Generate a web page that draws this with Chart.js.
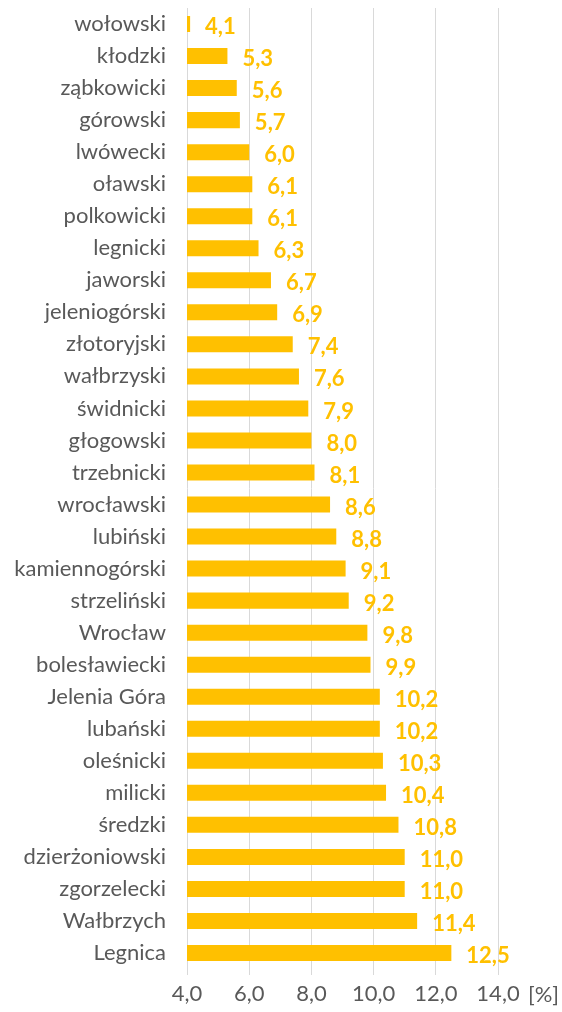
<!DOCTYPE html>
<html>
<head>
<meta charset="utf-8">
<script src="https://cdn.jsdelivr.net/npm/chart.js@4"></script>
<style>
  html, body { margin: 0; padding: 0; background: #fff; }
  #wrap { width: 562px; height: 1012px; }
</style>
</head>
<body>
<div id="wrap"><canvas id="myChart"></canvas></div>
<script>
const labels = [
  'wołowski', 'kłodzki', 'ząbkowicki', 'górowski', 'lwówecki', 'oławski',
  'polkowicki', 'legnicki', 'jaworski', 'jeleniogórski', 'złotoryjski',
  'wałbrzyski', 'świdnicki', 'głogowski', 'trzebnicki', 'wrocławski',
  'lubiński', 'kamiennogórski', 'strzeliński', 'Wrocław', 'bolesławiecki',
  'Jelenia Góra', 'lubański', 'oleśnicki', 'milicki', 'średzki',
  'dzierżoniowski', 'zgorzelecki', 'Wałbrzych', 'Legnica'
];

const values = [
  4.1, 5.3, 5.6, 5.7, 6.0, 6.1,
  6.1, 6.3, 6.7, 6.9, 7.4,
  7.6, 7.9, 8.0, 8.1, 8.6,
  8.8, 9.1, 9.2, 9.8, 9.9,
  10.2, 10.2, 10.3, 10.4, 10.8,
  11.0, 11.0, 11.4, 12.5
];

const axisMin = 4;
const axisMax = 14;
const axisUnit = '[%]';

const fmt = v => v.toFixed(1).replace('.', ',');

// value labels next to bars + unit after the axis
const valueLabels = {
  id: 'valueLabels',
  afterDatasetsDraw(chart) {
    const ctx = chart.ctx;
    const meta = chart.getDatasetMeta(0);
    ctx.save();
    ctx.font = 'bold 22px Lato, sans-serif';
    ctx.fillStyle = '#FFC000';
    ctx.textAlign = 'left';
    ctx.textBaseline = 'middle';
    meta.data.forEach((bar, i) => {
      ctx.fillText(fmt(values[i]), bar.x + 15, bar.y + 3);
    });
    const xs = chart.scales.x;
    ctx.font = '22px Lato, sans-serif';
    ctx.fillStyle = '#595959';
    ctx.fillText(axisUnit, xs.right + 30, xs.top + 26);
    ctx.restore();
  }
};

const data = {
  labels: labels,
  datasets: [{
    data: values,
    backgroundColor: '#FFC000',
    categoryPercentage: 1,
    barPercentage: 0.5
  }]
};

const config = {
  type: 'bar',
  data: data,
  options: {
    indexAxis: 'y',
    responsive: true,
    maintainAspectRatio: false,
    animation: false,
    layout: { padding: { top: 8, right: 64, bottom: 0, left: 0 } },
    scales: {
      x: {
        min: axisMin,
        max: axisMax,
        ticks: {
          stepSize: 2,
          color: '#595959',
          font: { family: 'Lato, sans-serif', size: 22 },
          callback: v => fmt(v),
          padding: 6
        },
        grid: { color: '#D9D9D9', drawTicks: true, tickLength: 6 },
        border: { display: false },
        afterFit(scale) { scale.height = 43; }
      },
      y: {
        ticks: {
          color: '#595959',
          font: { family: 'Lato, sans-serif', size: 22 },
          padding: 13
        },
        grid: { display: false },
        border: { display: false },
        afterFit(scale) {
          scale.width = 187;
          scale.paddingTop = 0;
          scale.paddingBottom = 0;
        }
      }
    },
    plugins: {
      legend: { display: false },
      tooltip: { enabled: false }
    }
  },
  plugins: [valueLabels]
};

const myChart = new Chart(document.getElementById('myChart'), config);
</script>
</body>
</html>
